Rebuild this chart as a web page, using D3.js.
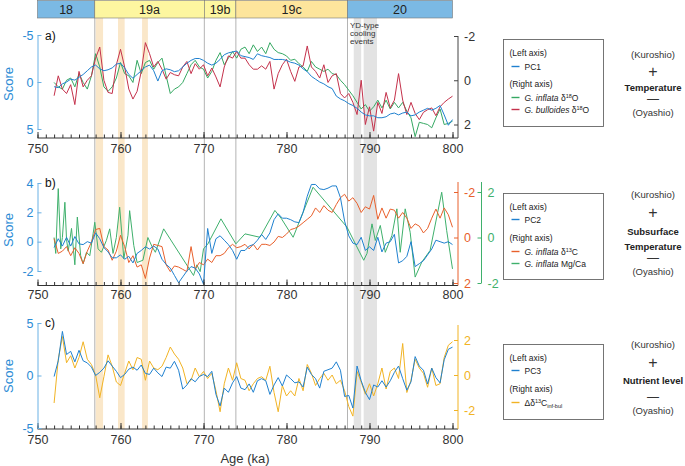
<!DOCTYPE html>
<html>
<head>
<meta charset="utf-8">
<script src="https://cdn.jsdelivr.net/npm/d3@7"></script>
<style>
  body { margin: 0; background: #fff; }
  svg { font-family: "Liberation Sans", Arial, Helvetica, sans-serif; }
</style>
</head>
<body>
<svg id="chart" width="685" height="466"></svg>
<script>
// MIS stages along the top bar (ka)
const stageNames = ['18', '19a', '19b', '19c', '20'];
const stageStart = [750, 756.9, 770.1, 773.9, 787.35];
const stageEnd = [756.9, 770.1, 773.9, 787.35, 800];
const warmEvents = [[757.0, 757.9], [759.7, 760.5], [762.6, 763.3]];
const coolEvents = [[788.1, 789.0], [789.3, 790.9]];
const ageTicks = [750, 760, 770, 780, 790, 800];

// records, 0.5 ka grid from 752 to 800 ka
const ages = d3.range(752, 800.001, 0.5);

const pc1 = [0.5, 0.6, 0.2, 0.0, -0.3, -0.2, -0.5, -0.8, -1.2, -1.6,
  -1.8, -1.4, -1.2, -1.3, -1.5, -1.9, -2.0, -1.5, -0.8, -0.4,
  -0.8, -1.2, -1.6, -1.8, -1.2, -0.1, -1.2, -1.4, -1.3, -1.1,
  -1.2, -1.6, -2.0, -2.3, -2.5, -2.5, -2.3, -2.0, -1.8, -2.0,
  -2.4, -2.9, -3.1, -3.2, -3.3, -2.8, -2.7, -2.6, -2.4, -3.0,
  -2.8, -2.7, -2.6, -2.4, -2.4, -2.4, -2.3, -2.1, -2.0, -1.8,
  -1.4, -1.1, -0.6, -0.3, 0.0, 0.2, 0.5, 0.7, 1.5, 1.8,
  2.0, 2.3, 2.5, 2.8, 3.2, 3.5, 3.6, 3.6, 3.8, 3.8,
  3.7, 3.4, 3.3, 3.5, 3.3, 3.2, 3.6, 3.5, 3.2, 3.0,
  2.8, 3.0, 2.8, 2.5, 3.5, 4.6, 4.0];

const inflataO = [0.1, 0.3, 0.4, 0.0, -0.1, 0.3, -0.3, 0.1, 0.4, -0.2,
  -1.2, -0.6, 0.3, 0.5, 0.3, -0.1, -0.8, -0.3, -0.2, 0.1,
  -0.9, -0.3, -0.8, -0.9, -0.5, -0.8, -1.0, -0.2, 0.6, 0.4,
  0.3, 0.1, -0.3, -0.7, -0.9, -0.6, -0.5, -0.1, -0.4, -0.9,
  -1.25, -0.7, -1.0, -1.3, -1.0, -1.4, -1.5, -1.2, -1.6, -1.3,
  -1.5, -1.2, -1.7, -1.4, -1.25, -1.2, -1.1, -0.9, -0.95, -0.75,
  -0.6, -0.4, -0.85, -0.6, -0.5, -0.4, -0.5, -0.3, -0.25, 0.0,
  0.2, 0.45, 0.7, 1.0, 1.3, 1.1, 1.4, 1.2, 0.9, 1.25,
  0.9, 1.3, 1.0, 1.25, 1.0, 1.4, 1.7, 2.55, 1.9, 1.95,
  2.0, 2.15, 1.7, 1.3, 2.0, 1.95, 1.85];

const bulloidesO = [0.7, -0.2, 0.4, 0.6, 0.2, 1.1, -0.4, 0.3, 0.0, -0.2,
  -1.0, -1.5, 0.0, 0.55, 0.6, -0.7, -1.4, -0.6, 0.4, 0.85,
  0.5, -0.4, -1.7, -1.2, -0.6, -0.85, -0.5, -0.05, -0.35, -0.25,
  -0.2, -0.6, -0.85, -0.3, -0.75, -0.5, -0.7, -0.2, -0.55, -0.15,
  0.3, -0.6, -1.1, -1.0, -1.3, -1.0, -1.0, -0.7, -0.5, -0.5,
  -0.65, -0.5, -0.85, 0.4, -0.3, -0.7, -0.95, -0.4, 0.05, -0.6,
  -0.65, -1.55, -0.6, -0.4, -0.1, -0.7, 0.1, -0.2, -0.3, 0.6,
  0.8, 0.6, 1.0, 1.55, 0.0, 2.0, 1.2, 2.3, 1.0, 1.5,
  0.55, 1.25, 0.9, -0.3, 0.9, 1.55, 1.0, 1.5, 1.78, 1.45,
  1.33, 1.25, 1.6, 1.2, 1.0, 0.85, 0.72];

const pc2 = [-0.4, 0.2, -0.3, 0.3, -0.3, 0.35, -0.15, -0.2, 0.0, -0.1,
  0.6, 0.2, -0.4, -0.7, -1.1, -1.1, -0.9, -1.2, -1.0, -1.45,
  -0.8, -0.6, -0.35, -0.5, -0.3, -0.5, -1.2, -1.55, -1.8, -2.3,
  -2.8, -2.4, -2.0, -1.7, -1.8, -2.2, -2.9, 0.9, -0.8, 0.2,
  0.4, 0.1, -0.2, -0.6, -1.2, -0.6, -0.6, -0.3, -0.2, 0.1,
  0.5, 0.15, 0.6, 1.5, 1.9, 1.6, 1.6, 1.5, 1.35, 1.3,
  2.0, 3.1, 3.9, 3.9, 3.6, 3.55, 3.65, 3.8, 3.8, 3.0,
  1.4, 0.4, -0.1, -0.2, 0.3, -0.6, -0.35, -0.6, 0.3, -0.7,
  -0.1, 0.0, 0.5, -1.45, -1.3, -1.0, 0.0, -1.7, -1.5, -1.3,
  -0.9, -0.5, 0.1, 0.0, -0.1, 0.0, -0.2];

const inflataC = [0.05, 0.7, 0.6, 0.4, 0.8, 0.45, 0.7, 1.15, 0.6, 0.2,
  -0.35, -0.4, 0.4, 0.55, 1.0, 0.6, -0.1, 0.4, 1.1, 0.8,
  1.3, 1.2, 1.8, 0.9, 0.3, 0.35, 0.4, 1.2, 1.5, 1.25,
  1.3, 1.4, 1.5, 0.4, 1.4, 1.1, 1.2, 0.95, 1.1, 0.8,
  0.8, 0.7, 0.45, 0.3, 0.45, 0.4, 0.3, 0.5, 0.3, 0.55,
  0.3, 0.3, 0.35, 0.2, -0.05, 0.0, -0.15, -0.35, -0.4, -0.5,
  -0.65, -0.8, -0.95, -1.3, -1.1, -1.4, -1.2, -1.1, -1.45, -1.75,
  -1.9, -1.6, -1.75, -1.5, -1.1, -1.35, -1.25, -1.85, -0.8, -1.3,
  -0.85, -1.25, -1.2, -0.85, -1.1, -0.85, -0.4, -0.6, -0.5, -0.2,
  -0.4, -0.85, -1.25, -0.85, -1.3, -1.0, -0.45];

// Mg/Ca is sampled irregularly
const mgAges = [752.0, 752.2, 752.5, 752.8, 753.0, 753.3, 753.5, 753.7, 754.1, 754.5,
  754.8, 755.2, 755.5, 755.9, 756.3, 756.7, 756.9, 757.3, 757.7, 758.3,
  758.7, 759.1, 759.5, 759.9, 760.4, 760.9, 761.1, 761.6, 762.0, 762.7,
  763.3, 763.8, 764.2, 765.2, 768.8, 769.2, 769.6, 770.0, 770.5, 772.1,
  773.9, 775.0, 776.8, 778.6, 779.4, 780.8, 783.2, 787.3, 788.3, 789.3,
  789.7, 790.3, 790.7, 791.3, 791.9, 792.7, 793.3, 793.7, 794.3, 794.9,
  795.5, 796.3, 797.3, 798.7, 799.3, 800.0];
const mgCa = [0.0, -0.7, 2.15, -0.5, 0.0, 1.55, -0.1, -0.6, 0.4, -1.2,
  0.9, -0.8, -1.15, -0.65, -0.8, 0.17, 0.67, -0.5, -0.65, -0.13,
  0.38, -0.7, 0.0, 1.33, -0.93, 0.1, 1.18, -0.35, -1.1, -1.0,
  0.0, -0.4, -0.65, 0.38, -1.67, -1.2, -1.5, -0.5, -0.3, 0.82,
  -0.28, 0.16, 0.01, 1.19, 0.82, 0.01, 2.21, 0.45, -0.28, -1.0,
  -0.7, 0.6, -0.13, 0.53, -0.65, 0.09, 1.26, -0.65, 1.26, 0.23,
  -1.74, -1.08, -0.57, 1.99, 0.3, -1.38];

const pc3 = [-0.1, 1.4, 4.2, 2.0, 2.3, 1.3, 2.4, 1.4, 1.2, 0.8,
  0.0, 0.3, 0.7, 1.4, 0.9, 0.4, -0.2, 0.1, 0.6, 0.8,
  0.5, 1.0, 0.2, 0.1, 0.7, 0.25, -0.1, 0.8, 0.7, 1.35,
  0.5, -1.3, -0.9, -0.3, -0.6, -0.1, 0.1, -0.1, 0.4, -1.8,
  -2.9, -1.2, -1.6, -0.7, -0.1, -1.2, -1.35, -0.8, -1.6, -0.5,
  -0.3, -0.5, -1.8, -0.9, -0.2, -1.0, 0.05, -0.3, -0.7, -0.6,
  -1.1, 0.8, 0.1, -0.3, -1.2, 0.4, 0.55, 0.7, 1.3, 0.5,
  -2.0, -1.9, -3.1, 0.9, -0.5, -1.6, -2.3, -0.9, -1.1, -0.5,
  -1.1, -0.5, 0.3, 0.9, -0.3, -1.4, -0.6, 1.8, 0.9, 0.5,
  -0.8, 0.7, -0.2, -0.7, 1.5, 2.5, 2.7];

const deltaC = [-1.6, 0.9, 2.2, 0.7, 1.1, 0.4, 1.0, 1.9, 0.9, 0.6,
  0.0, -1.3, -0.1, 1.15, 0.5, -0.4, -0.6, 0.1, 0.8, 0.3,
  1.0, 0.9, -0.3, 0.8, 0.4, 0.3, 0.5, 1.0, 1.6, 1.2,
  0.9, 0.4, -0.5, -0.3, 0.4, -0.1, 0.2, -0.2, 0.1, -0.9,
  -2.1, -0.5, 0.4, -0.3, 0.7, -0.2, -0.3, -0.9, -0.5, -0.2,
  -0.1, -0.3, 0.5, -1.0, -2.1, -0.6, -1.2, -0.9, -1.2, -0.2,
  -0.9, 0.6, 0.1, -0.6, -0.2, 0.1, -0.3, 0.0, -0.5, -0.3,
  -0.9, -1.8, -2.35, 0.2, -0.4, -1.1, -0.5, -1.2, -0.5, 0.4,
  -0.8, 0.2, 0.4, -0.2, 1.8, -1.0, -0.3, 0.9, 0.4, 0.1,
  -0.7, 0.4, -0.6, -0.5, 1.0, 1.7, 1.9];

const svg = d3.select('#chart');
const x = d3.scaleLinear().domain([750, 800]).range([37.5, 452.5]);
const top0 = 18;
const bottom0 = 429;
const rightX = 458;

const blue = '#1f80cf';
const axisBlue = '#6ab1e4';
const textBlue = '#2b8bd5';
const greenA = '#35a862';
const red = '#c4314b';
const orange = '#e8602c';
const greenB = '#3fb06c';
const yellow = '#f1b324';

// shaded events + stage boundaries
const bg = svg.append('g');
warmEvents.forEach(e => bg.append('rect')
  .attr('x', x(e[0])).attr('y', top0)
  .attr('width', x(e[1]) - x(e[0])).attr('height', bottom0 - top0)
  .attr('fill', '#fae7c9'));
coolEvents.forEach(e => bg.append('rect')
  .attr('x', x(e[0])).attr('y', top0)
  .attr('width', x(e[1]) - x(e[0])).attr('height', bottom0 - top0)
  .attr('fill', '#e3e3e3'));
stageStart.slice(1).forEach(a => bg.append('line')
  .attr('x1', x(a)).attr('x2', x(a))
  .attr('y1', top0).attr('y2', bottom0)
  .attr('stroke', '#ababab').attr('stroke-width', 0.9));

// stage bar
const stageFill = { '18': '#7bb9e4', '19a': '#fdf6a0', '19b': '#fdf6a0', '19c': '#fde59c', '20': '#7bb9e4' };
stageNames.forEach((s, i) => {
  svg.append('rect')
    .attr('x', x(stageStart[i])).attr('y', 0.5)
    .attr('width', x(stageEnd[i]) - x(stageStart[i])).attr('height', top0 - 0.5)
    .attr('fill', stageFill[s]).attr('stroke', '#777').attr('stroke-width', 0.6);
  svg.append('text')
    .attr('x', (x(stageStart[i]) + x(stageEnd[i])) / 2).attr('y', 13.5)
    .attr('text-anchor', 'middle').attr('font-size', 12.5).attr('fill', '#222')
    .text(s);
});

['YD-type', 'cooling', 'events'].forEach((t, i) => svg.append('text')
  .attr('x', 350).attr('y', 28 + i * 8).attr('font-size', 8).attr('fill', '#333').text(t));

// helpers
function styleAxis(g, lineColor, textColor, size) {
  g.attr('font-family', null).attr('font-size', null);
  g.selectAll('.domain').attr('stroke', lineColor);
  g.selectAll('.tick line').attr('stroke', lineColor);
  g.selectAll('.tick text').attr('fill', textColor).attr('font-size', size);
}

function bottomAxis(y0, labelY) {
  const minor = svg.append('g').attr('transform', `translate(0,${y0})`)
    .call(d3.axisBottom(x).tickValues(d3.range(750, 801)).tickSize(-3.5).tickFormat(''));
  minor.select('.domain').remove();
  styleAxis(minor, '#333', '#333', 12);
  const major = svg.append('g').attr('transform', `translate(0,${y0})`)
    .call(d3.axisBottom(x).tickValues(ageTicks).tickSize(-6).tickPadding(labelY).tickFormat(d => String(d)));
  major.select('.domain').remove();
  styleAxis(major, '#333', '#333', 12.5);
  svg.append('line').attr('x1', x(750)).attr('x2', rightX)
    .attr('y1', y0).attr('y2', y0).attr('stroke', '#333');
}

function leftAxis(scale, ticks, mid, letter, letterY) {
  const ext = d3.extent(ticks);
  const s = scale.copy().domain(ext).range(ext.map(scale));
  const g = svg.append('g').attr('transform', `translate(${x(750)},0)`)
    .call(d3.axisLeft(s).tickValues(ticks).tickSize(-4).tickSizeOuter(0).tickPadding(4).tickFormat(d => String(d)));
  styleAxis(g, axisBlue, textBlue, 12.5);
  svg.append('text').attr('transform', `translate(13,${mid}) rotate(-90)`)
    .attr('text-anchor', 'middle').attr('font-size', 13).attr('fill', textBlue).text('Score');
  svg.append('text').attr('x', 45).attr('y', letterY).attr('font-size', 12).attr('fill', '#111').text(letter);
}

function rightAxis(scale, ticks, xPos, y1, y2, lineColor, textColor) {
  const g = svg.append('g').attr('transform', `translate(${xPos},0)`)
    .call(d3.axisRight(scale).tickValues(ticks).tickSize(-4).tickPadding(6).tickFormat(d => String(d)));
  g.select('.domain').remove();
  g.append('line').attr('y1', y1).attr('y2', y2).attr('stroke', lineColor);
  styleAxis(g, lineColor, textColor, 12.5);
}

const defs = svg.append('defs');
function clip(id, y1, y2) {
  defs.append('clipPath').attr('id', id).append('rect')
    .attr('x', x(750)).attr('y', y1).attr('width', rightX - x(750)).attr('height', y2 - y1);
  return `url(#${id})`;
}

function series(xs, ys, yScale, color, clipUrl) {
  const line = d3.line().x(d => x(d[0])).y(d => yScale(d[1]));
  svg.append('path').datum(d3.zip(xs, ys))
    .attr('d', line).attr('fill', 'none')
    .attr('stroke', color).attr('stroke-width', 1).attr('stroke-linejoin', 'round')
    .attr('clip-path', clipUrl);
}

// panel a
const yA = d3.scaleLinear().domain([-5, 5]).range([35, 129]);
const yAr = d3.scaleLinear().domain([-2, 2]).range([36, 124.5]);
const clipA = clip('ca', 26, 138);
series(ages, inflataO, yAr, greenA, clipA);
series(ages, bulloidesO, yAr, red, clipA);
series(ages, pc1, yA, blue, clipA);
bottomAxis(138, 6);
leftAxis(yA, [-5, 0, 5], 84, 'a)', 40);
rightAxis(yAr, [-2, 0, 2], rightX, 36, 138, '#444', '#333');

// panel b
const yB = d3.scaleLinear().domain([-2, 4]).range([271, 183]);
const yBc = d3.scaleLinear().domain([-2, 2]).range([192, 283]);
const yBm = d3.scaleLinear().domain([-2, 2]).range([283, 192]);
const clipB = clip('cb', 176, 285.5);
series(mgAges, mgCa, yBm, greenB, clipB);
series(ages, inflataC, yBc, orange, clipB);
series(ages, pc2, yB, blue, clipB);
bottomAxis(285.5, 5);
leftAxis(yB, [-2, 0, 2, 4], 230, 'b)', 187);
rightAxis(yBc, [-2, 0, 2], rightX, 182, 285.5, orange, orange);
rightAxis(yBm, [-2, 0, 2], 481.5, 182, 283, greenB, greenB);

// panel c
const yC = d3.scaleLinear().domain([-5, 5]).range([428, 323]);
const yCr = d3.scaleLinear().domain([-2, 2]).range([410, 340]);
const clipC = clip('cc', 318, 429);
series(ages, deltaC, yCr, yellow, clipC);
series(ages, pc3, yC, blue, clipC);
bottomAxis(429, 6);
leftAxis(yC, [-5, 0, 5], 376, 'c)', 327);
rightAxis(yCr, [-2, 0, 2], rightX, 325, 429, yellow, yellow);

svg.append('text').attr('x', x(775)).attr('y', 463)
  .attr('text-anchor', 'middle').attr('font-size', 13).attr('fill', '#333').text('Age (ka)');

// legends
function legend(y0, h, rows) {
  const g = svg.append('g').attr('transform', `translate(503.5,${y0})`);
  g.append('rect').attr('width', 100).attr('height', h)
    .attr('fill', '#fff').attr('stroke', '#666').attr('stroke-width', 0.9);
  rows.forEach(r => {
    if (r.color) {
      g.append('line').attr('x1', 8).attr('x2', 16).attr('y1', r.y).attr('y2', r.y)
        .attr('stroke', r.color).attr('stroke-width', 1.4);
    }
    const t = g.append('text').attr('x', r.color ? 21 : 6).attr('y', r.y + 3)
      .attr('font-size', 8.5).attr('fill', '#222');
    let shift = 0;
    r.parts.forEach(([txt, kind]) => {
      const target = kind === 'sup' ? -3 : kind === 'sub' ? 2 : 0;
      const ts = t.append('tspan').attr('dy', target - shift).text(txt);
      shift = target;
      if (kind === 'i') ts.attr('font-style', 'italic');
      if (kind === 'sup' || kind === 'sub') ts.attr('font-size', 5.5);
    });
  });
}

legend(39.5, 87, [
  { y: 13, parts: [['(Left axis)', '']] },
  { y: 27, color: blue, parts: [['PC1', '']] },
  { y: 44, parts: [['(Right axis)', '']] },
  { y: 58, color: greenA, parts: [['G. inflata', 'i'], [' δ', ''], ['18', 'sup'], ['O', '']] },
  { y: 70, color: red, parts: [['G. bulloides', 'i'], [' δ', ''], ['18', 'sup'], ['O', '']] }
]);
legend(193.5, 86, [
  { y: 13, parts: [['(Left axis)', '']] },
  { y: 26, color: blue, parts: [['PC2', '']] },
  { y: 44, parts: [['(Right axis)', '']] },
  { y: 58, color: orange, parts: [['G. inflata', 'i'], [' δ', ''], ['13', 'sup'], ['C', '']] },
  { y: 70, color: greenB, parts: [['G. inflata', 'i'], [' Mg/Ca', '']] }
]);
legend(344.5, 75, [
  { y: 13, parts: [['(Left axis)', '']] },
  { y: 26, color: blue, parts: [['PC3', '']] },
  { y: 44, parts: [['(Right axis)', '']] },
  { y: 58, color: yellow, parts: [['Δδ', ''], ['13', 'sup'], ['C', ''], ['inf-bul', 'sub']] }
]);

// interpretation labels on the right
function sideLabel(rows) {
  rows.forEach(([t, y, bold, size]) => svg.append('text')
    .attr('x', 653).attr('y', y).attr('text-anchor', 'middle')
    .attr('font-size', size).attr('font-weight', bold ? 'bold' : 'normal')
    .attr('fill', bold ? '#222' : '#333').text(t));
}
sideLabel([['(Kuroshio)', 58, false, 9.5], ['+', 77, false, 16], ['Temperature', 90.5, true, 9.5],
  ['—', 103, false, 12], ['(Oyashio)', 116, false, 9.5]]);
sideLabel([['(Kuroshio)', 198, false, 9.5], ['+', 218, false, 16], ['Subsurface', 234.5, true, 9.5],
  ['Temperature', 249.5, true, 9.5], ['—', 262, false, 12], ['(Oyashio)', 275, false, 9.5]]);
sideLabel([['(Kuroshio)', 348, false, 9.5], ['+', 368, false, 16], ['Nutrient level', 383.5, true, 9.5],
  ['—', 401, false, 12], ['(Oyashio)', 414, false, 9.5]]);
</script>
</body>
</html>
